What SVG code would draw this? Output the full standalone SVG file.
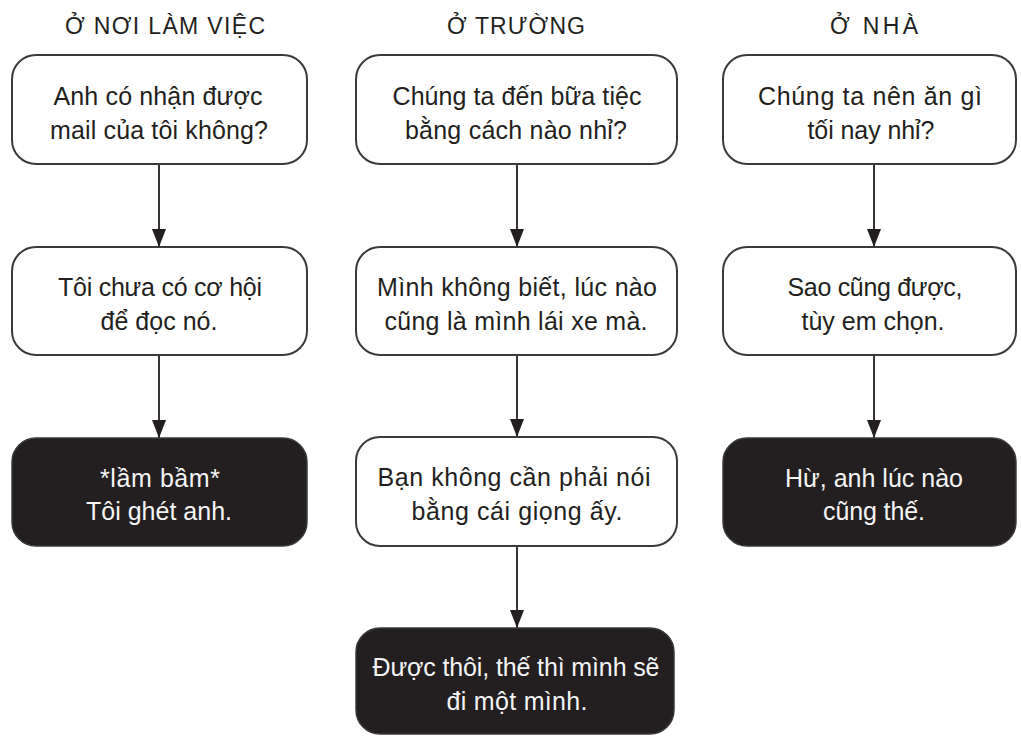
<svg xmlns="http://www.w3.org/2000/svg" width="1021" height="736" viewBox="0 0 1021 736">
<defs>
<marker id="ah" markerUnits="userSpaceOnUse" markerWidth="18" markerHeight="14" refX="18" refY="7" orient="auto">
<path d="M0,0 L18,7 L0,14 z" fill="#231f20"/>
</marker>
<style>
.title{font-family:"Liberation Sans",Arial,sans-serif;font-size:23px;fill:#231f20;text-anchor:middle}
.t{font-family:"Liberation Sans",Arial,sans-serif;font-size:25px;fill:#231f20;text-anchor:middle}
.d{font-family:"Liberation Sans",Arial,sans-serif;font-size:25px;fill:#f4f4f4;text-anchor:middle}
.box{fill:#ffffff;stroke:#3a3a3a;stroke-width:2}
.dark{fill:#231f20;stroke:#3a3a3a;stroke-width:1.5}
.conn{stroke:#231f20;stroke-width:1.8;fill:none;marker-end:url(#ah)}
</style>
</defs>
<rect width="1021" height="736" fill="#ffffff"/>

<g id="titles">
<text class="title" x="165" y="34" textLength="200" lengthAdjust="spacing">Ở NƠI LÀM VIỆC</text>
<text class="title" x="516" y="34" textLength="138" lengthAdjust="spacing">Ở TRƯỜNG</text>
<text class="title" x="874" y="34" textLength="88" lengthAdjust="spacing">Ở NHÀ</text>
</g>

<g id="connectors">
<line class="conn" x1="159" y1="165" x2="159" y2="247"/>
<line class="conn" x1="159" y1="356" x2="159" y2="438"/>
<line class="conn" x1="517" y1="165" x2="517" y2="247"/>
<line class="conn" x1="517" y1="356" x2="517" y2="437"/>
<line class="conn" x1="517" y1="547" x2="517" y2="628"/>
<line class="conn" x1="874" y1="165" x2="874" y2="247"/>
<line class="conn" x1="874" y1="356" x2="874" y2="438"/>
</g>

<g id="work1">
<rect class="box" x="12" y="55" width="295" height="109" rx="24"/>
<text class="t" x="158" y="105" textLength="209" lengthAdjust="spacing">Anh có nhận được</text>
<text class="t" x="159" y="139" textLength="218" lengthAdjust="spacing">mail của tôi không?</text>
</g>
<g id="work2">
<rect class="box" x="12" y="247" width="295" height="108" rx="24"/>
<text class="t" x="160" y="296" textLength="204" lengthAdjust="spacing">Tôi chưa có cơ hội</text>
<text class="t" x="159" y="330" textLength="117" lengthAdjust="spacing">để đọc nó.</text>
</g>
<g id="work3">
<rect class="dark" x="12" y="438" width="295" height="108" rx="24"/>
<text class="d" x="160" y="487" textLength="120" lengthAdjust="spacing">*lầm bầm*</text>
<text class="d" x="159" y="520" textLength="146" lengthAdjust="spacing">Tôi ghét anh.</text>
</g>

<g id="school1">
<rect class="box" x="356" y="55" width="321" height="109" rx="24"/>
<text class="t" x="517" y="105" textLength="249" lengthAdjust="spacing">Chúng ta đến bữa tiệc</text>
<text class="t" x="516" y="139" textLength="222" lengthAdjust="spacing">bằng cách nào nhỉ?</text>
</g>
<g id="school2">
<rect class="box" x="356" y="247" width="321" height="108" rx="24"/>
<text class="t" x="517" y="296" textLength="280" lengthAdjust="spacing">Mình không biết, lúc nào</text>
<text class="t" x="516" y="330" textLength="263" lengthAdjust="spacing">cũng là mình lái xe mà.</text>
</g>
<g id="school3">
<rect class="box" x="356" y="437" width="321" height="109" rx="24"/>
<text class="t" x="514" y="486" textLength="273" lengthAdjust="spacing">Bạn không cần phải nói</text>
<text class="t" x="517" y="520" textLength="211" lengthAdjust="spacing">bằng cái giọng ấy.</text>
</g>
<g id="school4">
<rect class="dark" x="356" y="628" width="318" height="106" rx="24"/>
<text class="d" x="516" y="676" textLength="287" lengthAdjust="spacing">Được thôi, thế thì mình sẽ</text>
<text class="d" x="517" y="710" textLength="141" lengthAdjust="spacing">đi một mình.</text>
</g>

<g id="home1">
<rect class="box" x="723" y="55" width="293" height="109" rx="24"/>
<text class="t" x="870" y="105" textLength="224" lengthAdjust="spacing">Chúng ta nên ăn gì</text>
<text class="t" x="871" y="139" textLength="127" lengthAdjust="spacing">tối nay nhỉ?</text>
</g>
<g id="home2">
<rect class="box" x="723" y="247" width="293" height="108" rx="24"/>
<text class="t" x="875" y="296" textLength="175" lengthAdjust="spacing">Sao cũng được,</text>
<text class="t" x="873" y="330" textLength="143" lengthAdjust="spacing">tùy em chọn.</text>
</g>
<g id="home3">
<rect class="dark" x="723" y="438" width="293" height="108" rx="24"/>
<text class="d" x="874" y="487" textLength="178" lengthAdjust="spacing">Hừ, anh lúc nào</text>
<text class="d" x="874" y="520" textLength="102" lengthAdjust="spacing">cũng thế.</text>
</g>
</svg>
